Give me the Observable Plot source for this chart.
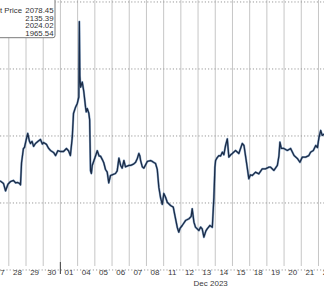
<!DOCTYPE html>
<html>
<head>
<meta charset="utf-8">
<script src="https://cdn.jsdelivr.net/npm/d3@7"></script>
<script src="https://cdn.jsdelivr.net/npm/@observablehq/plot@0.6"></script>
<style>
  html, body { margin: 0; padding: 0; background: #fff; }
  #wrap { position: relative; width: 324px; height: 289px; overflow: hidden; background: #fff; }
  #wrap svg { display: block; }
</style>
</head>
<body>
<div id="wrap"></div>
<script>
// Trading-day tick labels (each label sits in the middle of its trading day)
const dayLabels = ["27","28","29","30","01","04","05","06","07","08","11","12","13","14","15","18","19","20","21","22"];
const monthLabel = "Dec 2023";
const monthFirstDay = "01";
const monthLabelDay = "13";

// Price gridlines
const yTicks = [1950, 2000, 2050, 2100, 2150];

// Legend values
const legendLabels = ["Last Price", "", "", ""];
const legendValues = ["2078.45", "2135.39", "2024.02", "1965.54"];

// Intraday price: [trading-day position (0 = start of Nov 27), price]
const goldPrice = [
  [0.52,2016.3],[0.69,2014.6],[0.81,2009],[0.95,2014],[1.10,2016.0],[1.27,2016.8],[1.40,2015],
  [1.51,2015.3],[1.62,2014.6],[1.68,2013.5],[1.74,2030],[1.85,2040.7],[1.91,2041.4],[2.00,2046.6],
  [2.10,2051.9],[2.20,2046],[2.26,2044.4],[2.35,2046],[2.44,2042.2],[2.55,2044.4],[2.70,2046],
  [2.84,2047.4],[2.95,2044],[3.02,2045.1],[3.19,2043.7],[3.30,2041],[3.42,2039.2],[3.60,2037.7],
  [3.72,2035.4],[3.85,2039],[4.01,2038.4],[4.18,2038.4],[4.35,2040.7],[4.47,2039],[4.58,2035.4],
  [4.69,2049.1],[4.76,2066.8],[4.88,2071.5],[4.98,2074.3],[5.07,2079.0],[5.10,2135.4],[5.13,2095],
  [5.17,2086.4],[5.27,2090.2],[5.36,2083],[5.46,2071.5],[5.50,2068],[5.56,2070.5],[5.65,2067],
  [5.70,2062],[5.75,2024],[5.80,2022],[5.85,2028],[6.04,2035],[6.14,2039],[6.25,2035],[6.33,2035],
  [6.45,2032],[6.52,2030],[6.62,2025],[6.72,2023],[6.81,2015],[6.91,2020.5],[7.01,2021],[7.20,2022],
  [7.30,2024],[7.40,2033.5],[7.50,2028],[7.59,2026],[7.69,2031.7],[7.78,2027],[7.98,2028],[8.08,2028],
  [8.25,2029],[8.37,2030.4],[8.47,2033.2],[8.56,2037],[8.62,2035],[8.66,2031.7],[8.76,2027],[8.85,2026],
  [9.05,2031],[9.24,2031.7],[9.34,2031],[9.53,2029.5],[9.63,2025],[9.72,2011.8],[9.82,2004],[9.92,1999],
  [10.01,2007.1],[10.11,2004.3],[10.21,2000.6],[10.40,1998.1],[10.56,1996.9],[10.63,1992.2],
  [10.79,1981.9],[10.88,1978.2],[10.95,1981],[11.08,1983.2],[11.27,1986.9],[11.47,1988.2],[11.60,1990],
  [11.66,1995.7],[11.76,1985.7],[11.85,1982],[12.05,1979.5],[12.15,1982],[12.24,1980.7],[12.34,1974.5],
  [12.45,1979],[12.53,1980.7],[12.69,1983.2],[12.83,1981.9],[12.92,2004],[12.98,2026.7],[13.02,2031.7],
  [13.12,2034],[13.22,2035.4],[13.31,2035],[13.41,2037.9],[13.50,2036],[13.60,2042.9],[13.70,2047.9],
  [13.79,2034.2],[13.90,2036],[13.99,2036.9],[14.18,2039.2],[14.37,2036.9],[14.57,2044.4],[14.67,2042.9],
  [14.77,2034.2],[14.87,2025.5],[14.95,2018.1],[15.05,2021],[15.15,2020.5],[15.34,2023.0],[15.53,2021.7],
  [15.73,2025.5],[15.92,2025.5],[16.12,2026.7],[16.22,2026.7],[16.41,2024.3],[16.61,2028.0],[16.70,2035],
  [16.76,2045.4],[16.84,2040.7],[16.99,2040.7],[17.19,2039.2],[17.38,2040.7],[17.58,2035.4],[17.77,2033.2],
  [17.92,2030.4],[18.06,2034.2],[18.25,2034.2],[18.44,2035.4],[18.54,2037.9],[18.70,2039.2],[18.84,2042.9],
  [18.94,2041.4],[19.03,2048.9],[19.13,2054.1],[19.22,2050.4],[19.35,2051.6]
];

const data = goldPrice.map(([t, p]) => ({t, p}));
const boundaries = dayLabels.slice(1).map((_, i) => i + 1);
const labelRows = dayLabels.map((label, i) => ({label, t: i + 0.5}));
const monthStart = [dayLabels.indexOf(monthFirstDay)];
const monthRow = [{label: monthLabel, t: dayLabels.indexOf(monthLabelDay) + 0.5}];

const axisFont = "'Liberation Sans Narrow', 'Liberation Sans', Arial, sans-serif";

const chart = Plot.plot({
  width: 324,
  height: 289,
  marginTop: 0,
  marginRight: 0,
  marginBottom: 23,
  marginLeft: 0,
  x: {type: "linear", domain: [0.517, 19.35], axis: null},
  y: {domain: [1952.6, 2151.1], axis: null},
  style: {background: "#fff", fontFamily: axisFont},
  marks: [
    Plot.ruleX(boundaries, {x: d => d, stroke: "#c6c6c6", strokeWidth: 1}),
    Plot.ruleY(yTicks, {y: d => d, stroke: "#9a9a9a", strokeWidth: 1, strokeDasharray: "1.2,2"}),
    Plot.line(data, {x: "t", y: "p", stroke: "#3d6ea8", strokeWidth: 2.2, strokeOpacity: 0.55, strokeLinejoin: "round"}),
    Plot.line(data, {x: "t", y: "p", stroke: "#1b2c47", strokeWidth: 1.3, strokeLinejoin: "round"}),
    Plot.ruleX(monthStart, {x: d => d, stroke: "#555", strokeWidth: 1.2, insetTop: 262, insetBottom: -8}),
    Plot.text(labelRows, {x: "t", text: "label", frameAnchor: "bottom", dy: 6, lineAnchor: "middle",
      fontSize: 8, fill: "#3a3a3a"}),
    Plot.text(monthRow, {x: "t", text: "label", frameAnchor: "bottom", dy: 17, dx: 4, lineAnchor: "middle",
      fontSize: 8, fill: "#3a3a3a"})
  ]
});

document.getElementById("wrap").appendChild(chart);

// Legend box (clipped at the left, as in the reference)
const svg = d3.select(chart);
const lg = svg.append("g").attr("font-family", "'Liberation Sans', Arial, sans-serif").attr("font-size", 7.8).attr("fill", "#333");
lg.append("rect").attr("x", -8).attr("y", -4).attr("width", 63).attr("height", 41.7)
  .attr("rx", 2).attr("fill", "#fff").attr("stroke", "#7a7a7a").attr("stroke-width", 1);
legendValues.forEach((v, i) => {
  const base = 13.2 + i * 7.6;
  if (legendLabels[i]) lg.append("text").attr("x", 22).attr("y", base).attr("text-anchor", "end").text(legendLabels[i]);
  lg.append("text").attr("x", 53.5).attr("y", base).attr("text-anchor", "end").text(v);
});
</script>
</body>
</html>
